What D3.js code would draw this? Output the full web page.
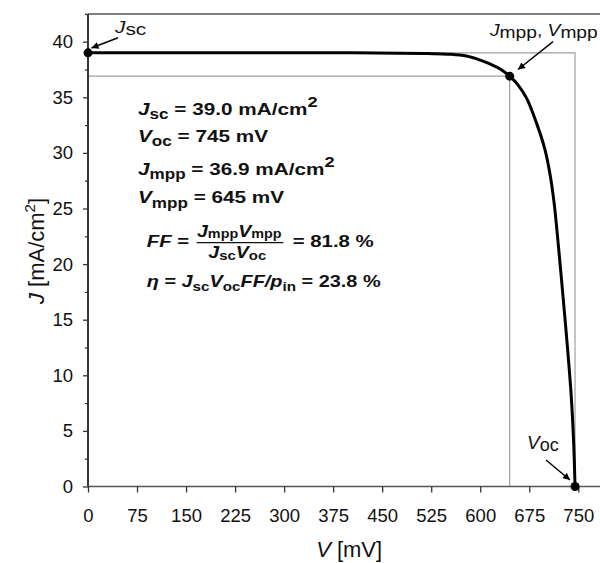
<!DOCTYPE html>
<html><head><meta charset="utf-8">
<script src="https://cdn.jsdelivr.net/npm/d3@7"></script>
<style>body{margin:0;background:#fff}svg{display:block;font-family:"Liberation Sans",Arial,sans-serif}</style>
</head><body>
<script>
// ---- data ----
const voltage = [0, 150, 300, 400, 477, 520, 554, 579, 600, 615, 630, 645, 658, 671, 686, 699, 707, 713, 719, 726, 733, 739, 743, 745];
const current = [39.0, 39.0, 39.0, 39.0, 38.96, 38.93, 38.87, 38.71, 38.35, 38.0, 37.57, 36.9, 36.1, 34.9, 32.7, 30.3, 28.0, 25.5, 22.0, 17.5, 12.8, 8.3, 3.8, 0];
const xTicks = [0, 75, 150, 225, 300, 375, 450, 525, 600, 675, 750];
const yTicks = [0, 5, 10, 15, 20, 25, 30, 35, 40];
const yMinor = [2.5, 7.5, 12.5, 17.5, 22.5, 27.5, 32.5, 37.5, 42.5];
const Jsc = 39.0, Voc = 745, Jmpp = 36.9, Vmpp = 645;

const W = 600, H = 563;
const svg = d3.select("body").append("svg").attr("width", W).attr("height", H);
const x = d3.scaleLinear().domain([0, 750]).range([88, 578.3]);
const y = d3.scaleLinear().domain([0, 42.5]).range([486.5, 13.9]);
const xEnd = 603;

// reference rectangles
const g = svg.append("g");
g.append("path").attr("fill", "none").attr("stroke", "#a0a0a0").attr("stroke-width", 1.2)
  .attr("d", `M${x(0)},${y(Jsc)}H${x(Voc)}V${y(0)}`);
g.append("path").attr("fill", "none").attr("stroke", "#a0a0a0").attr("stroke-width", 1.2)
  .attr("d", `M${x(0)},${y(Jmpp)}H${x(Vmpp)}V${y(0)}`);

// top frame
svg.append("line").attr("x1", x(0)).attr("x2", xEnd).attr("y1", y(42.5)).attr("y2", y(42.5))
  .attr("stroke", "#808080").attr("stroke-width", 2);

// axes
const xAxis = svg.append("g").attr("transform", `translate(0,${y(0)})`)
  .call(d3.axisBottom(x).tickValues(xTicks).tickSize(6).tickPadding(16).tickSizeOuter(0));
xAxis.select(".domain").attr("d", `M${x(0)},0H${xEnd}`).attr("stroke", "#555").attr("stroke-width", 1.6);
xAxis.selectAll(".tick line").attr("stroke", "#333").attr("stroke-width", 1.3);
xAxis.selectAll(".tick text").attr("font-size", 18.5).attr("fill", "#111").attr("font-family", "Liberation Sans, Arial, sans-serif");

const yAxis = svg.append("g").attr("transform", `translate(${x(0)},0)`)
  .call(d3.axisLeft(y).tickValues(yTicks).tickSize(5).tickPadding(10).tickSizeOuter(0));
yAxis.select(".domain").attr("d", `M0,${y(0)}V${y(42.5)}`).attr("stroke", "#222").attr("stroke-width", 1.8);
yAxis.selectAll(".tick line").attr("stroke", "#333").attr("stroke-width", 1.3);
yAxis.selectAll(".tick text").attr("font-size", 18.5).attr("fill", "#111").attr("font-family", "Liberation Sans, Arial, sans-serif");
const yAxisMinor = svg.append("g").attr("transform", `translate(${x(0)},0)`)
  .call(d3.axisLeft(y).tickValues(yMinor).tickSize(3).tickFormat(""));
yAxisMinor.select(".domain").remove();
yAxisMinor.selectAll(".tick line").attr("stroke", "#333").attr("stroke-width", 1.3);

// curve
const data = voltage.map((v, i) => ({v, j: current[i]}));
svg.append("path").datum(data).attr("fill", "none").attr("stroke", "#000").attr("stroke-width", 3)
  .attr("stroke-linejoin", "round")
  .attr("d", d3.line().x(d => x(d.v)).y(d => y(d.j)).curve(d3.curveCatmullRom.alpha(0.5)));

// points
const pts = [{v: 0, j: Jsc}, {v: Vmpp, j: Jmpp}, {v: Voc, j: 0}];
svg.selectAll("circle.pt").data(pts).join("circle").attr("class", "pt")
  .attr("cx", d => x(d.v)).attr("cy", d => y(d.j)).attr("r", 4.5).attr("fill", "#000");

// arrow marker
svg.append("defs").append("marker").attr("id", "ah").attr("viewBox", "0 0 10 10")
  .attr("refX", 10).attr("refY", 5).attr("markerWidth", 9).attr("markerHeight", 7)
  .attr("markerUnits", "userSpaceOnUse").attr("orient", "auto")
  .append("path").attr("d", "M0,0L10,5L0,10z").attr("fill", "#000");
function arrow(x1, y1, x2, y2) {
  svg.append("line").attr("x1", x1).attr("y1", y1).attr("x2", x2).attr("y2", y2)
    .attr("stroke", "#000").attr("stroke-width", 1.5).attr("marker-end", "url(#ah)");
}
arrow(118, 37.7, 91.5, 48);
arrow(553, 41.7, 518, 69.5);
arrow(546, 460, 570, 480);

// rich text helper: parts = [text, {italic, sub, sup, size}]
function rich(parent, tx, ty, sx, size, bold, parts) {
  const t = parent.append("text").attr("transform", `translate(${tx},${ty}) scale(${sx},1)`)
    .attr("font-size", size).attr("font-weight", bold ? "bold" : "normal").attr("fill", "#111");
  let shift = 0;
  parts.forEach(p => {
    const [str, o = {}] = p;
    const ts = t.append("tspan").text(str);
    if (o.italic) ts.attr("font-style", "italic");
    if (o.size) ts.attr("font-size", o.size);
    let target = o.sub ? (o.subdy || 4.3) : o.sup ? -8 : 0;
    if (target !== shift) { ts.attr("dy", target - shift); shift = target; }
  });
  return t;
}

// point labels
rich(svg, 115, 33, 1.3, 16, false, [["J", {italic: true}], ["sc", {sub: true, subdy: 1.5}]]);
rich(svg, 490, 36, 1.2, 16, false, [["J", {italic: true}], ["mpp", {sub: true, subdy: 1.5}], [", "], ["V", {italic: true}], ["mpp", {sub: true, subdy: 1.5}]]);
rich(svg, 527, 449, 1.0, 19, false, [["V", {italic: true}], ["oc", {sub: true, subdy: 2, size: 18}]]);

// annotation block
const S = 1.22;
rich(svg, 138, 115, S, 17, true, [["J", {italic: true}], ["sc", {sub: true, size: 14}], [" = 39.0 mA/cm"], ["2", {sup: true, size: 15}]]);
rich(svg, 138, 141.7, S, 17, true, [["V", {italic: true}], ["oc", {sub: true, size: 14}], [" = 745 mV"]]);
rich(svg, 138, 175, S, 17, true, [["J", {italic: true}], ["mpp", {sub: true, size: 14}], [" = 36.9 mA/cm"], ["2", {sup: true, size: 15}]]);
rich(svg, 138, 203.3, S, 17, true, [["V", {italic: true}], ["mpp", {sub: true, size: 14}], [" = 645 mV"]]);
rich(svg, 146.7, 246.7, 1.2, 17, true, [["FF", {italic: true}], [" ="]]);
rich(svg, 197, 236.7, 1.15, 17, true, [["J", {italic: true}], ["mpp", {sub: true, subdy: 1.5, size: 12.5}], ["V", {italic: true}], ["mpp", {sub: true, subdy: 1.5, size: 12.5}]]);
svg.append("line").attr("x1", 196.7).attr("x2", 283.3).attr("y1", 242.7).attr("y2", 242.7)
  .attr("stroke", "#111").attr("stroke-width", 1.3);
rich(svg, 208.3, 258.3, 1.15, 17, true, [["J", {italic: true}], ["sc", {sub: true, subdy: 2, size: 13}], ["V", {italic: true}], ["oc", {sub: true, subdy: 2, size: 13}]]);
rich(svg, 292.7, 246.7, 1.2, 17, true, [["= 81.8 %"]]);
rich(svg, 146.7, 287, 1.17, 17, true, [["η", {italic: true}], [" = "], ["J", {italic: true}], ["sc", {sub: true, size: 13}], ["V", {italic: true}], ["oc", {sub: true, size: 13}], ["FF/p", {italic: true}], ["in", {sub: true, size: 13}], [" = 23.8 %"]]);

// axis titles
const xt = svg.append("text").attr("x", x(0) + (x(750) - x(0)) / 2 + 16).attr("y", 557)
  .attr("text-anchor", "middle").attr("font-size", 22).attr("fill", "#111");
xt.append("tspan").attr("font-style", "italic").text("V");
xt.append("tspan").text(" [mV]");

const yt = svg.append("text").attr("transform", `translate(43.5,251) rotate(-90)`)
  .attr("text-anchor", "middle").attr("font-size", 22).attr("fill", "#111");
yt.append("tspan").attr("font-style", "italic").text("J");
yt.append("tspan").text(" [mA/cm");
yt.append("tspan").attr("font-size", 15).attr("dy", -9).text("2");
yt.append("tspan").attr("dy", 9).text("]");
</script>
</body></html>
